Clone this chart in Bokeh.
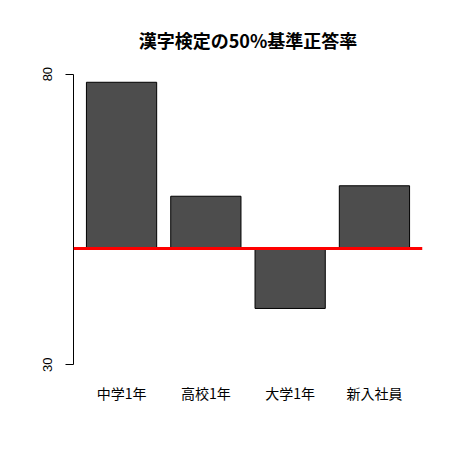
from bokeh.plotting import figure
from bokeh.models import FactorRange, Range1d, FixedTicker, Span
from bokeh.embed import file_html
from bokeh.resources import INLINE

# 漢字検定の50%基準正答率
groups = ["中学1年", "高校1年", "大学1年", "新入社員"]
rates = [78.6, 59.0, 39.7, 60.8]
baseline = 50
y_ticks = [30, 80]

p = figure(
    width=443, height=441,
    x_range=FactorRange(factors=groups, range_padding=0.07, range_padding_units="absolute"),
    y_range=Range1d(28, 82),
    title="漢字検定の50%基準正答率",
    output_backend="svg", toolbar_location=None,
    min_border_left=73, min_border_right=21, min_border_top=62, min_border_bottom=65,
)

p.vbar(x=groups, top=rates, bottom=baseline, width=1 / 1.2,
       fill_color="#4D4D4D", line_color="black", line_width=1)

p.add_layout(Span(location=baseline, dimension="width", line_color="red", line_width=3))

p.title.align = "center"
p.title.text_font = "Noto Sans CJK JP"
p.title.text_font_size = "18px"
p.title.text_font_style = "bold"
p.title.text_color = "black"
p.title.standoff = 20

p.xgrid.visible = False
p.ygrid.visible = False
p.outline_line_color = None

p.yaxis.ticker = FixedTicker(ticks=y_ticks)
p.yaxis.bounds = (30, 80)
p.yaxis.major_label_orientation = "vertical"
p.yaxis.major_tick_out = 8
p.yaxis.major_tick_in = 0
p.yaxis.minor_tick_line_color = None
p.yaxis.major_label_standoff = 13
p.yaxis.major_label_text_font = "Liberation Sans"
p.yaxis.major_label_text_font_size = "13px"
p.yaxis.major_label_text_color = "black"
p.yaxis.axis_line_color = "black"

p.xaxis.axis_line_color = None
p.xaxis.major_tick_line_color = None
p.xaxis.major_tick_out = 0
p.xaxis.major_tick_in = 0
p.xaxis.major_label_standoff = 6
p.xaxis.major_label_text_font = "Noto Sans CJK JP"
p.xaxis.major_label_text_font_size = "14px"
p.xaxis.major_label_text_color = "black"

open("out.html", "w").write(file_html(p, INLINE))
